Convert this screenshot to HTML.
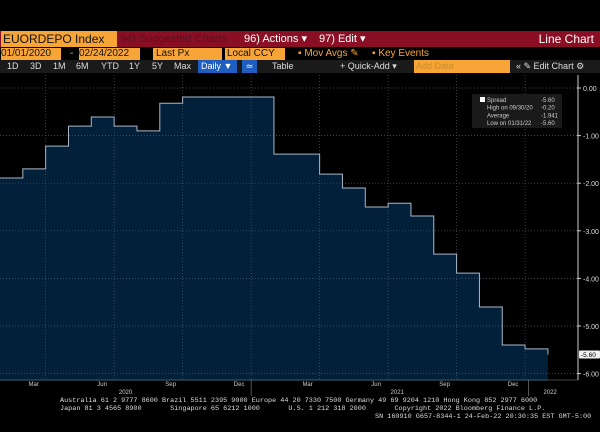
<!DOCTYPE html>
<html><head><meta charset="utf-8"><style>
body{margin:0;background:#000;width:600px;height:432px;overflow:hidden;font-family:"Liberation Sans",sans-serif;position:relative}
.a{position:absolute;white-space:nowrap}
.or{background:#f7a536;color:#111}
.r3{top:60px;font-size:9px;line-height:13px;color:#ddd}
</style></head><body>
<div class="a" style="left:0;top:31px;width:600px;height:16px;background:#8a0f24"></div>
<div class="a or" style="left:1px;top:31px;width:114px;height:16px;font-size:12px;line-height:16px;padding-left:2px">EUORDEPO Index</div>
<div class="a" style="left:120px;top:31px;font-size:11px;line-height:16px;color:#5a1020">94) Suggested Charts</div>
<div class="a" style="left:244px;top:31px;font-size:11px;line-height:16px;color:#fff">96) Actions ▾</div>
<div class="a" style="left:319px;top:31px;font-size:11px;line-height:16px;color:#fff">97) Edit ▾</div>
<div class="a" style="right:6px;top:31px;font-size:12px;line-height:16px;color:#fff">Line Chart</div>
<div class="a or" style="left:1px;top:48px;width:60px;height:12px;font-size:10px;line-height:12px">01/01/2020</div>
<div class="a" style="left:70px;top:48px;font-size:10px;color:#ccc;line-height:12px">-</div>
<div class="a or" style="left:79px;top:48px;width:61px;height:12px;font-size:10px;line-height:12px">02/24/2022</div>
<div class="a or" style="left:153px;top:48px;width:66px;height:12px;font-size:10px;line-height:12px;padding-left:3px">Last Px</div>
<div class="a or" style="left:225px;top:48px;width:58px;height:12px;font-size:10px;line-height:12px;padding-left:2px">Local CCY</div>
<div class="a" style="left:298px;top:48px;font-size:10px;line-height:12px;color:#f7a536">▪ Mov Avgs ✎</div>
<div class="a" style="left:372px;top:48px;font-size:10px;line-height:12px;color:#f7a536">▪ Key Events</div>
<div class="a" style="left:0;top:60px;width:600px;height:13px;background:#1a1a1a"></div>
<div class="a r3" style="left:7px">1D</div>
<div class="a r3" style="left:30px">3D</div>
<div class="a r3" style="left:53px">1M</div>
<div class="a r3" style="left:76px">6M</div>
<div class="a r3" style="left:101px">YTD</div>
<div class="a r3" style="left:129px">1Y</div>
<div class="a r3" style="left:152px">5Y</div>
<div class="a r3" style="left:174px">Max</div>
<div class="a r3" style="left:198px;width:36px;height:13px;background:#1f5ec0;color:#fff;padding-left:3px">Daily ▼</div>
<div class="a r3" style="left:242px;width:15px;height:13px;background:#1f5ec0;color:#fff;text-align:center">≃</div>
<div class="a r3" style="left:272px">Table</div>
<div class="a r3" style="left:340px">+ Quick-Add ▾</div>
<div class="a or r3" style="left:414px;width:94px;height:13px;color:#c98a2a;background:#f7a536;padding-left:2px">Add Data</div>
<div class="a r3" style="left:516px">« ✎ Edit Chart ⚙</div>
<svg class="a" style="left:0;top:0" width="600" height="432" id="chart"></svg>
<div class="a" style="left:60px;top:397px;font-family:'Liberation Mono',monospace;font-size:6.8px;line-height:8px;color:#ddd">Australia 61 2 9777 8600 Brazil 5511 2395 9000 Europe 44 20 7330 7500 Germany 49 69 9204 1210 Hong Kong 852 2977 6000<br>Japan 81 3 4565 8900&nbsp;&nbsp;&nbsp;&nbsp;&nbsp;&nbsp;&nbsp;Singapore 65 6212 1000&nbsp;&nbsp;&nbsp;&nbsp;&nbsp;&nbsp;&nbsp;U.S. 1 212 318 2000&nbsp;&nbsp;&nbsp;&nbsp;&nbsp;&nbsp;&nbsp;Copyright 2022 Bloomberg Finance L.P.<br><span style="padding-left:315px">SN 160910 G657-8344-1 24-Feb-22 20:30:35 EST  GMT-5:00</span></div>
<script>
const months=["Jan20","Feb20","Mar20","Apr20","May20","Jun20","Jul20","Aug20","Sep20","Oct20","Nov20","Dec20","Jan21","Feb21","Mar21","Apr21","May21","Jun21","Jul21","Aug21","Sep21","Oct21","Nov21","Dec21"];
const values=[-1.89,-1.70,-1.22,-0.80,-0.61,-0.80,-0.90,-0.32,-0.19,-0.19,-0.19,-0.19,-1.39,-1.39,-1.81,-2.10,-2.50,-2.42,-2.69,-3.49,-3.89,-4.60,-5.40,-5.48];
const lastValue=-5.60;
const yTicks=[0,-1,-2,-3,-4,-5,-6];
const xTickLabels=["Mar","Jun","Sep","Dec","Mar","Jun","Sep","Dec"];
const xTickMonths=[2,5,8,11,14,17,20,23];
const yearLabels=["2020","2021","2022"];
const yearMonths=[5.5,17.4,24.1];
const yearDividers=[11,23.15];
const legendRows=[["Spread","-5.60"],["High on 09/30/20","-0.20"],["Average","-1.941"],["Low on 01/31/22","-5.60"]];
const NS="http://www.w3.org/2000/svg",svg=document.getElementById('chart');
const X=m=>m*22.83, Y=v=>88-v*47.6;
function mk(t,a,txt){const e=document.createElementNS(NS,t);for(const k in a)e.setAttribute(k,a[k]);if(txt!=null)e.textContent=txt;svg.appendChild(e);return e;}
let d="M0,"+Y(-6.15)+" L0,"+Y(values[0]);
let ln="M0,"+Y(values[0]);
values.forEach((v,i)=>{if(i>0){d+=" L"+X(i)+","+Y(v);ln+=" L"+X(i)+","+Y(v);}d+=" L"+X(i+1)+","+Y(v);ln+=" L"+X(i+1)+","+Y(v);});
d+=" L"+X(24)+","+Y(lastValue)+" L"+X(24)+","+Y(-6.15)+" Z";
ln+=" L"+X(24)+","+Y(lastValue);
const area=mk('path',{d:d,fill:'#03203a'});


yTicks.forEach(v=>{const g=mk('line',{x1:0,x2:577,y1:Y(v),y2:Y(v),stroke:'#4a5a6a','stroke-dasharray':'1,2','stroke-width':0.7});


mk('line',{x1:577,x2:581,y1:Y(v),y2:Y(v),stroke:'#ccc'});
const t=mk('text',{x:583,y:Y(v)+3,fill:'#ddd','font-size':7,'font-family':'Liberation Sans'},v.toFixed(2));

});
xTickMonths.forEach((m,i)=>{const g=mk('line',{x1:X(m),x2:X(m),y1:75,y2:379,stroke:'#4a5a6a','stroke-dasharray':'1,2','stroke-width':0.7});


const t=mk('text',{x:X(m)-12,y:386,fill:'#ccc','font-size':6,'text-anchor':'middle','font-family':'Liberation Sans'},xTickLabels[i]);

});
yearLabels.forEach((y,i)=>{const t=mk('text',{x:X(yearMonths[i]),y:394,fill:'#ccc','font-size':6,'text-anchor':'middle','font-family':'Liberation Sans'},y);

});
yearDividers.forEach(m=>mk('line',{x1:X(m),x2:X(m),y1:380,y2:396,stroke:'#888','stroke-width':0.6}));
const sl=mk('path',{d:ln,fill:'none',stroke:'#aab8c8','stroke-width':1});


mk('line',{x1:578,x2:578,y1:75,y2:380,stroke:'#ccc','stroke-width':1});
mk('line',{x1:0,x2:578,y1:380,y2:380,stroke:'#888','stroke-width':0.6});
mk('rect',{x:579,y:Y(lastValue)-4,width:21,height:8,fill:'#eee',rx:1});
const lt=mk('text',{x:581,y:Y(lastValue)+2.5,fill:'#000','font-size':6.5,'font-family':'Liberation Sans'},lastValue.toFixed(2));


const lg=mk('rect',{x:472,y:94,width:90,height:34,fill:'#1a1a1a'});


mk('rect',{x:480,y:97,width:5,height:5,fill:'#fff'});
legendRows.forEach((r,i)=>{const t=mk('text',{x:487,y:102+i*7.7,fill:'#ccc','font-size':6,'font-family':'Liberation Sans'},r[0]);


mk('text',{x:541,y:102+i*7.7,fill:'#ccc','font-size':6,'font-family':'Liberation Sans'},r[1]);});
</script>
</body></html>
